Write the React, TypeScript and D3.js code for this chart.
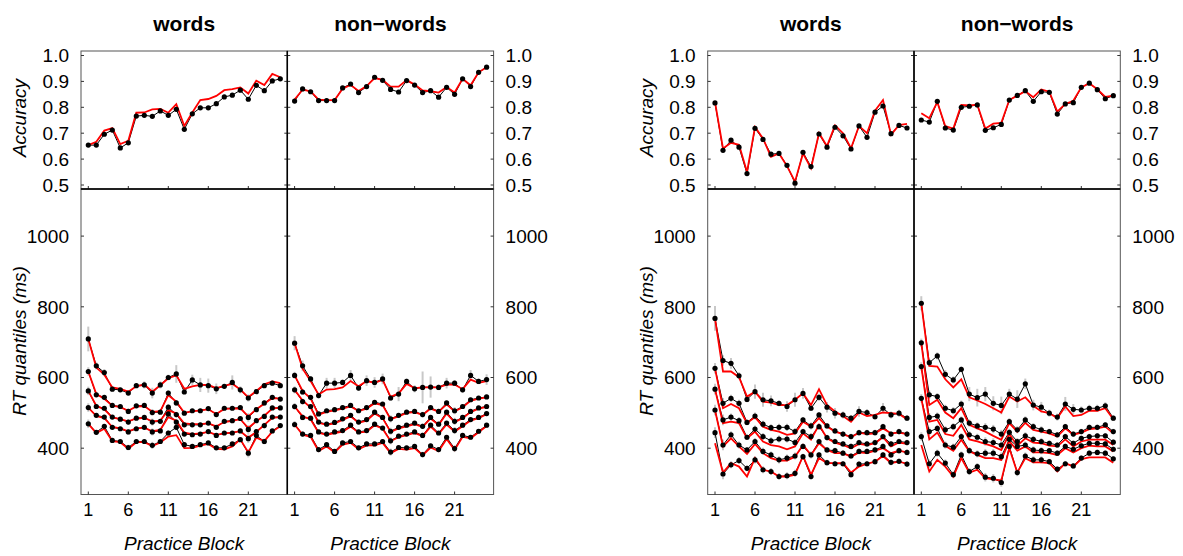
import React from 'react';
import * as d3 from 'd3';

// practice blocks and axis ticks
const blocks = [1, 2, 3, 4, 5, 6, 7, 8, 9, 10, 11, 12, 13, 14, 15, 16, 17, 18, 19, 20, 21, 22, 23, 24, 25];
const xTicks = [1, 6, 11, 16, 21];
const accTicks = [0.5, 0.6, 0.7, 0.8, 0.9, 1.0];
const rtTicks = [400, 600, 800, 1000];
const columnTitles = ['words', 'non\u2212words'];

// ---- left group, words ----
const lwAccObs = [0.654, 0.654, 0.696, 0.712, 0.643, 0.663, 0.766, 0.769, 0.765, 0.786, 0.769, 0.792, 0.715, 0.775, 0.798, 0.798, 0.814, 0.840, 0.847, 0.866, 0.831, 0.885, 0.864, 0.902, 0.910];
const lwAccFit = [0.654, 0.667, 0.710, 0.720, 0.658, 0.671, 0.779, 0.780, 0.792, 0.794, 0.779, 0.812, 0.728, 0.780, 0.828, 0.832, 0.844, 0.866, 0.870, 0.877, 0.853, 0.903, 0.886, 0.929, 0.916];
const lwQ5Obs = [709, 633, 614, 567, 565, 556, 577, 579, 556, 579, 600, 610, 559, 593, 579, 577, 568, 575, 586, 565, 542, 560, 577, 584, 577];
const lwQ5Fit = [709, 628, 608, 572, 568, 560, 575, 580, 560, 578, 598, 606, 568, 575, 579, 579, 570, 576, 582, 566, 544, 562, 581, 589, 584];
const lwQ4Obs = [617, 551, 544, 521, 518, 504, 520, 521, 501, 502, 556, 528, 499, 506, 506, 512, 495, 513, 513, 515, 487, 509, 528, 544, 539];
const lwQ4Fit = [617, 553, 540, 520, 516, 506, 518, 519, 503, 505, 550, 532, 500, 504, 507, 510, 497, 511, 512, 513, 490, 510, 526, 542, 540];
const lwQ3Obs = [562, 518, 513, 488, 482, 474, 485, 487, 474, 476, 516, 495, 466, 466, 466, 471, 459, 476, 478, 484, 453, 478, 490, 514, 514];
const lwQ3Fit = [562, 520, 510, 487, 482, 476, 484, 486, 476, 478, 508, 498, 470, 468, 468, 470, 462, 474, 477, 482, 457, 476, 492, 512, 515];
const lwQ2Obs = [515, 493, 488, 459, 455, 446, 455, 459, 446, 449, 497, 474, 440, 438, 440, 447, 436, 443, 443, 449, 427, 447, 464, 488, 488];
const lwQ2Fit = [515, 491, 485, 460, 456, 448, 456, 458, 448, 452, 488, 478, 444, 440, 442, 446, 438, 442, 444, 448, 430, 446, 466, 486, 488];
const lwQ1Obs = [469, 445, 462, 422, 419, 402, 419, 419, 408, 419, 443, 459, 410, 405, 410, 415, 401, 401, 412, 424, 386, 436, 419, 449, 464];
const lwQ1Fit = [469, 443, 455, 420, 417, 398, 417, 417, 406, 416, 433, 437, 400, 401, 407, 412, 398, 397, 405, 425, 388, 430, 420, 447, 462];
const lwErrTop = [35, 10, 10, 6, 6, 6, 6, 10, 15, 10, 8, 25, 6, 15, 20, 20, 15, 6, 20, 10, 10, 6, 6, 6, 6];
const lwErrLow = [12, 6, 6, 5, 5, 8, 5, 5, 10, 5, 8, 8, 5, 5, 5, 5, 5, 5, 5, 6, 12, 5, 8, 5, 5];

// ---- left group, non-words ----
const lnAccObs = [0.824, 0.871, 0.860, 0.826, 0.826, 0.826, 0.875, 0.890, 0.857, 0.880, 0.916, 0.904, 0.869, 0.859, 0.903, 0.886, 0.857, 0.864, 0.839, 0.877, 0.850, 0.910, 0.880, 0.935, 0.955];
const lnAccFit = [0.830, 0.868, 0.862, 0.830, 0.828, 0.828, 0.872, 0.886, 0.863, 0.882, 0.913, 0.906, 0.880, 0.880, 0.905, 0.888, 0.865, 0.862, 0.857, 0.878, 0.857, 0.910, 0.885, 0.935, 0.955];
const lnQ5Obs = [697, 633, 596, 549, 584, 584, 586, 606, 570, 591, 586, 596, 542, 553, 589, 568, 572, 573, 572, 584, 584, 565, 606, 589, 594];
const lnQ5Fit = [697, 625, 590, 552, 566, 567, 572, 590, 575, 590, 585, 593, 545, 555, 582, 570, 572, 572, 572, 580, 580, 567, 594, 585, 590];
const lnQ4Obs = [606, 559, 544, 497, 506, 509, 515, 521, 506, 515, 530, 525, 483, 493, 502, 504, 495, 515, 504, 528, 506, 518, 537, 542, 545];
const lnQ4Fit = [606, 562, 540, 495, 503, 507, 512, 518, 505, 512, 527, 522, 482, 490, 500, 502, 494, 512, 503, 524, 504, 516, 534, 540, 544];
const lnQ3Obs = [565, 532, 518, 474, 468, 473, 483, 493, 474, 481, 502, 487, 448, 459, 465, 471, 462, 487, 468, 502, 476, 487, 504, 514, 518];
const lnQ3Fit = [565, 535, 515, 472, 466, 470, 480, 490, 472, 478, 498, 485, 446, 456, 462, 468, 460, 484, 466, 498, 474, 485, 502, 512, 517];
const lnQ2Obs = [518, 487, 485, 446, 440, 446, 450, 465, 446, 450, 468, 457, 421, 434, 440, 446, 436, 465, 443, 471, 450, 465, 481, 487, 498];
const lnQ2Fit = [518, 490, 482, 444, 438, 443, 447, 461, 444, 447, 465, 455, 420, 431, 437, 443, 434, 461, 440, 467, 447, 462, 478, 485, 496];
const lnQ1Obs = [467, 440, 436, 396, 410, 391, 415, 419, 401, 412, 412, 419, 389, 402, 401, 405, 382, 407, 396, 431, 399, 436, 431, 448, 465];
const lnQ1Fit = [467, 438, 432, 392, 405, 388, 410, 415, 397, 408, 408, 415, 386, 398, 396, 400, 380, 402, 392, 426, 395, 432, 428, 445, 463];
const lnErrTop = [20, 15, 8, 8, 15, 15, 8, 15, 8, 15, 15, 15, 8, 20, 8, 10, 45, 30, 8, 15, 8, 8, 15, 8, 15];
const lnErrLow = [10, 8, 6, 6, 6, 6, 6, 6, 6, 6, 6, 6, 10, 6, 6, 6, 8, 6, 6, 6, 10, 6, 6, 6, 6];

// ---- right group, words ----
const rwAccObs = [0.817, 0.634, 0.673, 0.646, 0.544, 0.719, 0.676, 0.619, 0.622, 0.576, 0.507, 0.626, 0.571, 0.697, 0.646, 0.723, 0.690, 0.639, 0.728, 0.684, 0.781, 0.805, 0.698, 0.730, 0.720];
const rwAccFit = [0.820, 0.641, 0.663, 0.655, 0.550, 0.724, 0.680, 0.609, 0.622, 0.573, 0.513, 0.622, 0.565, 0.700, 0.650, 0.730, 0.700, 0.642, 0.728, 0.700, 0.787, 0.828, 0.694, 0.731, 0.736];
const rwQ5Obs = [767, 648, 640, 605, 538, 560, 537, 534, 527, 518, 537, 555, 513, 544, 516, 499, 494, 485, 504, 501, 489, 513, 494, 499, 485];
const rwQ5Fit = [767, 617, 617, 601, 546, 560, 532, 529, 522, 522, 537, 555, 522, 567, 522, 504, 491, 475, 501, 491, 494, 501, 499, 497, 482];
const rwQ4Obs = [626, 527, 541, 527, 473, 491, 468, 458, 459, 459, 447, 480, 463, 494, 463, 449, 440, 433, 444, 444, 444, 461, 440, 447, 440];
const rwQ4Fit = [626, 513, 525, 513, 471, 488, 461, 452, 447, 438, 442, 475, 461, 485, 461, 447, 440, 431, 444, 440, 442, 456, 442, 444, 440];
const rwQ3Obs = [567, 480, 488, 478, 431, 454, 433, 421, 426, 426, 416, 447, 433, 461, 430, 419, 412, 405, 416, 412, 416, 433, 412, 419, 416];
const rwQ3Fit = [567, 471, 475, 471, 428, 447, 419, 409, 405, 397, 405, 442, 424, 466, 428, 416, 409, 400, 412, 409, 414, 431, 405, 416, 412];
const rwQ2Obs = [508, 409, 438, 409, 395, 419, 391, 381, 367, 372, 378, 405, 381, 419, 395, 393, 386, 378, 391, 391, 395, 405, 381, 393, 388];
const rwQ2Fit = [508, 405, 428, 405, 384, 412, 386, 372, 365, 365, 376, 409, 381, 414, 395, 386, 386, 376, 388, 386, 393, 400, 386, 393, 388];
const rwQ1Obs = [444, 327, 353, 365, 343, 367, 339, 334, 320, 322, 329, 376, 320, 381, 359, 356, 356, 325, 355, 356, 362, 381, 360, 363, 355];
const rwQ1Fit = [414, 331, 358, 348, 320, 372, 339, 334, 320, 320, 325, 378, 325, 372, 358, 358, 358, 331, 348, 356, 362, 378, 358, 362, 356];
const rwErrTop = [35, 15, 15, 10, 8, 20, 20, 15, 8, 15, 20, 15, 8, 10, 15, 15, 10, 8, 15, 10, 8, 15, 10, 10, 8];
const rwErrLow = [15, 15, 10, 10, 8, 10, 10, 10, 10, 10, 10, 8, 10, 8, 8, 8, 8, 8, 8, 8, 8, 8, 8, 8, 8];

// ---- right group, non-words ----
const rnAccObs = [0.751, 0.743, 0.823, 0.720, 0.712, 0.800, 0.804, 0.809, 0.711, 0.721, 0.734, 0.828, 0.846, 0.864, 0.823, 0.860, 0.858, 0.774, 0.813, 0.818, 0.877, 0.893, 0.868, 0.833, 0.845];
const rnAccFit = [0.777, 0.758, 0.820, 0.727, 0.718, 0.809, 0.807, 0.810, 0.718, 0.737, 0.740, 0.828, 0.845, 0.862, 0.839, 0.869, 0.860, 0.783, 0.813, 0.825, 0.877, 0.893, 0.870, 0.840, 0.845];
const rnQ5Obs = [810, 642, 661, 609, 593, 623, 553, 543, 553, 527, 521, 553, 539, 582, 522, 516, 499, 488, 525, 510, 508, 513, 513, 520, 485];
const rnQ5Fit = [810, 633, 631, 595, 572, 595, 544, 535, 525, 513, 501, 546, 532, 544, 520, 504, 499, 485, 518, 491, 494, 506, 506, 513, 482];
const rnQ4Obs = [698, 551, 546, 513, 506, 525, 471, 463, 459, 454, 440, 475, 452, 480, 461, 452, 447, 438, 461, 440, 447, 459, 459, 466, 447];
const rnQ4Fit = [698, 522, 537, 501, 485, 513, 466, 456, 447, 435, 424, 471, 447, 472, 452, 447, 442, 433, 456, 438, 444, 454, 456, 461, 442];
const rnQ3Obs = [631, 487, 491, 452, 461, 480, 438, 431, 419, 416, 409, 445, 419, 435, 425, 419, 414, 409, 433, 414, 428, 433, 435, 435, 417];
const rnQ3Fit = [631, 475, 480, 440, 435, 466, 425, 419, 412, 405, 395, 440, 407, 428, 416, 414, 407, 405, 425, 405, 419, 424, 424, 424, 409];
const rnQ2Obs = [541, 447, 456, 409, 403, 433, 393, 384, 386, 386, 376, 425, 405, 409, 395, 393, 393, 386, 405, 397, 407, 414, 414, 412, 397];
const rnQ2Fit = [541, 425, 444, 407, 393, 424, 391, 381, 372, 372, 367, 420, 393, 405, 388, 388, 386, 381, 400, 388, 400, 407, 405, 405, 391];
const rnQ1Obs = [433, 356, 386, 358, 325, 381, 334, 348, 318, 315, 303, 405, 331, 378, 367, 367, 362, 341, 356, 350, 372, 386, 388, 386, 370];
const rnQ1Fit = [409, 334, 367, 348, 320, 372, 331, 339, 315, 312, 309, 400, 331, 372, 360, 360, 358, 334, 358, 348, 369, 374, 374, 374, 359];
const rnErrTop = [20, 10, 10, 12, 10, 8, 20, 25, 20, 20, 25, 15, 25, 15, 15, 15, 10, 10, 20, 15, 10, 10, 10, 10, 8];
const rnErrLow = [12, 12, 10, 10, 10, 10, 10, 10, 12, 12, 12, 10, 10, 10, 10, 10, 8, 8, 8, 8, 8, 8, 8, 8, 8];

const FONT = "'Liberation Sans', Arial, Helvetica, sans-serif";

// layout
const groupLefts = [81, 707.7];
const panelW = 206.3;
const accTop = 51, accBot = 189, rtBot = 494.5;
const padX = 7.3, stepX = 8;

const yAcc = d3.scaleLinear().domain([0.5, 1.0]).range([185, 55.5]);
const yRt = d3.scaleLinear().domain([400, 1000]).range([448.2, 236.1]);

const panels = [
  { acc: [lwAccObs, lwAccFit], obs: [lwQ1Obs, lwQ2Obs, lwQ3Obs, lwQ4Obs, lwQ5Obs], fit: [lwQ1Fit, lwQ2Fit, lwQ3Fit, lwQ4Fit, lwQ5Fit], err: [lwErrLow, lwErrTop] },
  { acc: [lnAccObs, lnAccFit], obs: [lnQ1Obs, lnQ2Obs, lnQ3Obs, lnQ4Obs, lnQ5Obs], fit: [lnQ1Fit, lnQ2Fit, lnQ3Fit, lnQ4Fit, lnQ5Fit], err: [lnErrLow, lnErrTop] },
  { acc: [rwAccObs, rwAccFit], obs: [rwQ1Obs, rwQ2Obs, rwQ3Obs, rwQ4Obs, rwQ5Obs], fit: [rwQ1Fit, rwQ2Fit, rwQ3Fit, rwQ4Fit, rwQ5Fit], err: [rwErrLow, rwErrTop] },
  { acc: [rnAccObs, rnAccFit], obs: [rnQ1Obs, rnQ2Obs, rnQ3Obs, rnQ4Obs, rnQ5Obs], fit: [rnQ1Fit, rnQ2Fit, rnQ3Fit, rnQ4Fit, rnQ5Fit], err: [rnErrLow, rnErrTop] },
];

function Panel({ x0, p }: { x0: number; p: any }) {
  const x = d3.scaleLinear().domain([1, 25]).range([x0 + padX, x0 + padX + 24 * stepX]);
  const accLine = d3.line<number>().x((_, i) => x(blocks[i])).y(d => yAcc(d));
  const rtLine = d3.line<number>().x((_, i) => x(blocks[i])).y(d => yRt(d));
  const [accObs, accFit] = p.acc;
  return (
    <g>
      <rect x={x0} y={accTop} width={panelW} height={accBot - accTop} fill="none" stroke="#555" strokeWidth={1} />
      <rect x={x0} y={accBot} width={panelW} height={rtBot - accBot} fill="none" stroke="#555" strokeWidth={1} />
      {/* small inward ticks */}
      {xTicks.map(t => (
        <g key={'xt' + t} stroke="#333" strokeWidth={1}>
          <line x1={x(t)} x2={x(t)} y1={accBot} y2={accBot - 3} />
          <line x1={x(t)} x2={x(t)} y1={rtBot} y2={rtBot - 3} />
        </g>
      ))}
      {accTicks.map(t => (
        <g key={'at' + t} stroke="#333" strokeWidth={1}>
          <line x1={x0} x2={x0 + 3} y1={yAcc(t)} y2={yAcc(t)} />
          <line x1={x0 + panelW} x2={x0 + panelW - 3} y1={yAcc(t)} y2={yAcc(t)} />
        </g>
      ))}
      {rtTicks.map(t => (
        <g key={'rt' + t} stroke="#333" strokeWidth={1}>
          <line x1={x0} x2={x0 + 3} y1={yRt(t)} y2={yRt(t)} />
          <line x1={x0 + panelW} x2={x0 + panelW - 3} y1={yRt(t)} y2={yRt(t)} />
        </g>
      ))}

      {/* accuracy */}
      <path d={accLine(accObs) || ''} fill="none" stroke="#000" strokeWidth={1} />
      <path d={accLine(accFit) || ''} fill="none" stroke="#ff0000" strokeWidth={1.8} />
      {accObs.map((v: number, i: number) => (
        <circle key={'ap' + i} cx={x(blocks[i])} cy={yAcc(v)} r={2.6} fill="#000" />
      ))}

      {/* RT quantiles: error bars, observed, model */}
      {p.obs.map((q: number[], qi: number) => {
        const err = qi === 4 ? p.err[1] : p.err[0];
        return (
          <g key={'eb' + qi} stroke="#c8c8c8" strokeWidth={2}>
            {q.map((v, i) => (
              <line key={i} x1={x(blocks[i])} x2={x(blocks[i])} y1={yRt(v - err[i])} y2={yRt(v + err[i])} />
            ))}
          </g>
        );
      })}
      {p.obs.map((q: number[], qi: number) => (
        <path key={'ol' + qi} d={rtLine(q) || ''} fill="none" stroke="#000" strokeWidth={1} />
      ))}
      {p.fit.map((q: number[], qi: number) => (
        <path key={'fl' + qi} d={rtLine(q) || ''} fill="none" stroke="#ff0000" strokeWidth={1.8} />
      ))}
      {p.obs.map((q: number[], qi: number) => (
        <g key={'op' + qi}>
          {q.map((v, i) => (
            <circle key={i} cx={x(blocks[i])} cy={yRt(v)} r={2.6} fill="#000" />
          ))}
        </g>
      ))}

      {/* x axis */}
      {xTicks.map(t => (
        <text key={'xl' + t} x={x(t)} y={516} textAnchor="middle" fontSize={18} fontFamily={FONT}>{t}</text>
      ))}
      <text x={x0 + panelW / 2} y={550} textAnchor="middle" fontSize={19} fontStyle="italic" fontFamily={FONT}>Practice Block</text>
    </g>
  );
}

export default function App() {
  return (
    <svg width={1183} height={556} style={{ position: 'absolute', left: 0, top: 0, background: '#fff' }}>
      <rect width={1183} height={556} fill="#fff" />
      {groupLefts.map((gx, g) => (
        <g key={'g' + g}>
          {[0, 1].map(c => (
            <Panel key={c} x0={gx + c * panelW} p={panels[g * 2 + c]} />
          ))}
          {/* black dividers */}
          <line x1={gx + panelW} x2={gx + panelW} y1={accTop} y2={rtBot} stroke="#000" strokeWidth={1.5} />
          <line x1={gx} x2={gx + 2 * panelW} y1={accBot} y2={accBot} stroke="#000" strokeWidth={1.5} />
          {/* column titles */}
          {columnTitles.map((t, c) => (
            <text key={t} x={gx + c * panelW + panelW / 2} y={31} textAnchor="middle" fontSize={21} fontWeight="bold" fontFamily={FONT}>{t}</text>
          ))}
          {/* left y labels */}
          {accTicks.map(t => (
            <text key={'la' + t} x={gx - 12} y={yAcc(t)} dy="0.36em" textAnchor="end" fontSize={19} fontFamily={FONT}>{d3.format('.1f')(t)}</text>
          ))}
          {rtTicks.map(t => (
            <text key={'lr' + t} x={gx - 12} y={yRt(t)} dy="0.36em" textAnchor="end" fontSize={19} fontFamily={FONT}>{t}</text>
          ))}
          {/* right y labels */}
          {accTicks.map(t => (
            <text key={'ra' + t} x={gx + 2 * panelW + 12} y={yAcc(t)} dy="0.36em" textAnchor="start" fontSize={19} fontFamily={FONT}>{d3.format('.1f')(t)}</text>
          ))}
          {rtTicks.map(t => (
            <text key={'rr' + t} x={gx + 2 * panelW + 12} y={yRt(t)} dy="0.36em" textAnchor="start" fontSize={19} fontFamily={FONT}>{t}</text>
          ))}
          {/* y titles */}
          <text transform={`translate(${gx - 55},118) rotate(-90)`} textAnchor="middle" fontSize={19} fontStyle="italic" fontFamily={FONT}>Accuracy</text>
          <text transform={`translate(${gx - 55},341) rotate(-90)`} textAnchor="middle" fontSize={19} fontStyle="italic" fontFamily={FONT}>RT quantiles (ms)</text>
        </g>
      ))}
    </svg>
  );
}
